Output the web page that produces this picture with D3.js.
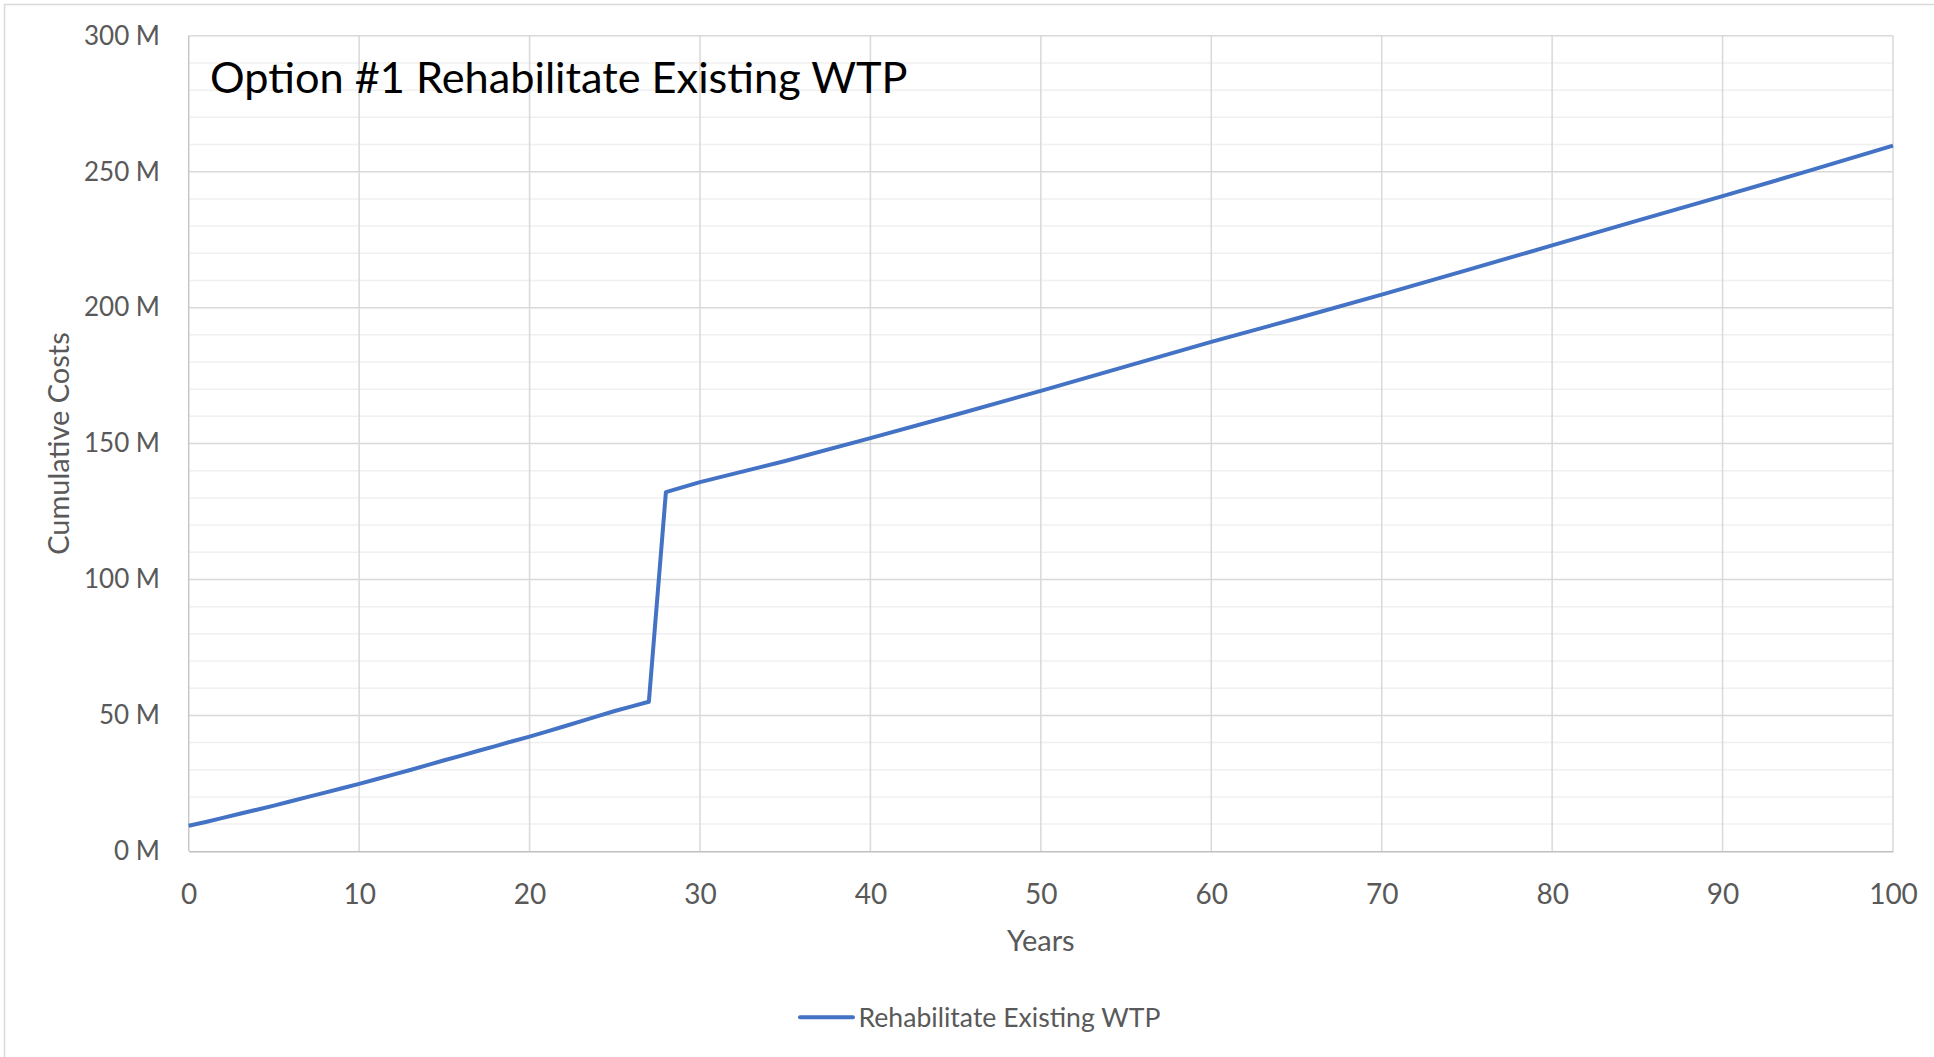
<!DOCTYPE html>
<html>
<head>
<meta charset="utf-8">
<script src="https://cdn.jsdelivr.net/npm/d3@7"></script>
<style>
  html, body { margin: 0; padding: 0; background: #fff; }
  svg { display: block; font-family: Lato, "Open Sans", sans-serif; }
</style>
</head>
<body>
<div id="chart"></div>
<script>
// data (years, cumulative cost in millions)
var years = [0, 1, 2, 3, 4, 5, 6, 7, 8, 9, 10, 11, 12, 13, 14, 15, 16, 17, 18, 19, 20,
  21, 22, 23, 24, 25, 26, 27, 28, 29, 30, 35, 40, 45, 50, 55, 60, 65, 70, 75, 80, 85, 90, 95, 100];
var costs = [9.4, 10.8, 12.3, 13.8, 15.3, 16.8, 18.4, 20.0, 21.6, 23.2, 24.8, 26.5, 28.2, 29.9, 31.7, 33.5,
  35.2, 37.0, 38.7, 40.5, 42.2, 44.0, 45.9, 47.8, 49.7, 51.6, 53.3, 55.0, 132.1, 134.0, 135.8, 143.6,
  152.0, 160.6, 169.4, 178.4, 187.4, 196.0, 204.8, 213.8, 222.9, 232.0, 241.0, 250.2, 259.6];
var xTicks = [0, 10, 20, 30, 40, 50, 60, 70, 80, 90, 100];
var yTicks = [0, 50, 100, 150, 200, 250, 300];
var yMinor = [10, 20, 30, 40, 60, 70, 80, 90, 110, 120, 130, 140, 160, 170, 180, 190, 210, 220, 230, 240, 260, 270, 280, 290];
var seriesName = "Rehabilitate Existing WTP";
var chartTitle = "Option #1 Rehabilitate Existing WTP";

var svgWidth = 1934;
var svgHeight = 1057;
var margin = { top: 35.8, right: 41, bottom: 205.7, left: 188.7 };
var width = svgWidth - margin.left - margin.right;
var height = svgHeight - margin.top - margin.bottom;

var lineColor = "#4472C4";
var textColor = "#595959";

var svg = d3.select("#chart")
  .append("svg")
  .attr("width", svgWidth)
  .attr("height", svgHeight);

// outer chart frame
svg.append("rect")
  .attr("x", 4.5)
  .attr("y", 4.5)
  .attr("width", svgWidth + 10)
  .attr("height", svgHeight + 10)
  .attr("fill", "none")
  .attr("stroke", "#d9d9d9")
  .attr("stroke-width", 1.5);

var chart = svg.append("g")
  .attr("transform", "translate(" + margin.left + "," + margin.top + ")");

var x = d3.scaleLinear().domain([0, 100]).range([0, width]);
var y = d3.scaleLinear().domain([0, 300]).range([height, 0]);

// minor horizontal grid
chart.append("g")
  .selectAll("line")
  .data(yMinor)
  .enter()
  .append("line")
  .attr("x1", 0)
  .attr("x2", width)
  .attr("y1", function(d) { return y(d); })
  .attr("y2", function(d) { return y(d); })
  .attr("stroke", "#f0f0f0")
  .attr("stroke-width", 1.5);

// major horizontal grid
chart.append("g")
  .selectAll("line")
  .data(yTicks.slice(1))
  .enter()
  .append("line")
  .attr("x1", 0)
  .attr("x2", width)
  .attr("y1", function(d) { return y(d); })
  .attr("y2", function(d) { return y(d); })
  .attr("stroke", "#d9d9d9")
  .attr("stroke-width", 1.5);

// vertical grid
chart.append("g")
  .selectAll("line")
  .data(xTicks.slice(1))
  .enter()
  .append("line")
  .attr("x1", function(d) { return x(d); })
  .attr("x2", function(d) { return x(d); })
  .attr("y1", 0)
  .attr("y2", height)
  .attr("stroke", "#d9d9d9")
  .attr("stroke-width", 1.5);

// left axis line
chart.append("line")
  .attr("x1", 0).attr("x2", 0)
  .attr("y1", 0).attr("y2", height)
  .attr("stroke", "#c8c8c8")
  .attr("stroke-width", 1.5);

// x axis
var xAxis = chart.append("g")
  .attr("transform", "translate(0," + height + ")")
  .call(d3.axisBottom(x).tickValues(xTicks).tickSize(0).tickPadding(33));
xAxis.select(".domain").attr("stroke", "#bfbfbf").attr("stroke-width", 1.5);
xAxis.selectAll("text")
  .attr("fill", textColor)
  .style("font-size", "28px")
  .style("font-family", "Lato");

// y axis
var yAxis = chart.append("g")
  .call(d3.axisLeft(y).tickValues(yTicks).tickSize(0).tickPadding(28.7)
    .tickFormat(function(d) { return d + " M"; }));
yAxis.select(".domain").remove();
yAxis.selectAll("text")
  .attr("fill", textColor)
  .style("font-size", "26px")
  .style("font-family", "Lato");

// the series
var line = d3.line()
  .x(function(d, i) { return x(years[i]); })
  .y(function(d) { return y(d); });

chart.append("path")
  .datum(costs)
  .attr("d", line)
  .attr("fill", "none")
  .attr("stroke", lineColor)
  .attr("stroke-width", 4)
  .attr("stroke-linejoin", "round");

// title inside the plot
svg.append("text")
  .attr("x", 210)
  .attr("y", 92.5)
  .attr("fill", "#000")
  .style("font-size", "43.3px")
  .text(chartTitle);

// axis titles
svg.append("text")
  .attr("x", margin.left + width / 2)
  .attr("y", 951)
  .attr("text-anchor", "middle")
  .attr("fill", textColor)
  .style("font-size", "29px")
  .text("Years");

svg.append("text")
  .attr("transform", "translate(69," + (margin.top + height / 2) + ") rotate(-90)")
  .attr("text-anchor", "middle")
  .attr("fill", textColor)
  .style("font-size", "29px")
  .text("Cumulative Costs");

// legend
svg.append("line")
  .attr("x1", 800).attr("x2", 853)
  .attr("y1", 1017.3).attr("y2", 1017.3)
  .attr("stroke", lineColor)
  .attr("stroke-width", 4)
  .attr("stroke-linecap", "round");

svg.append("text")
  .attr("x", 858.5)
  .attr("y", 1026.7)
  .attr("fill", textColor)
  .style("font-size", "26.6px")
  .text(seriesName);
</script>
</body>
</html>
